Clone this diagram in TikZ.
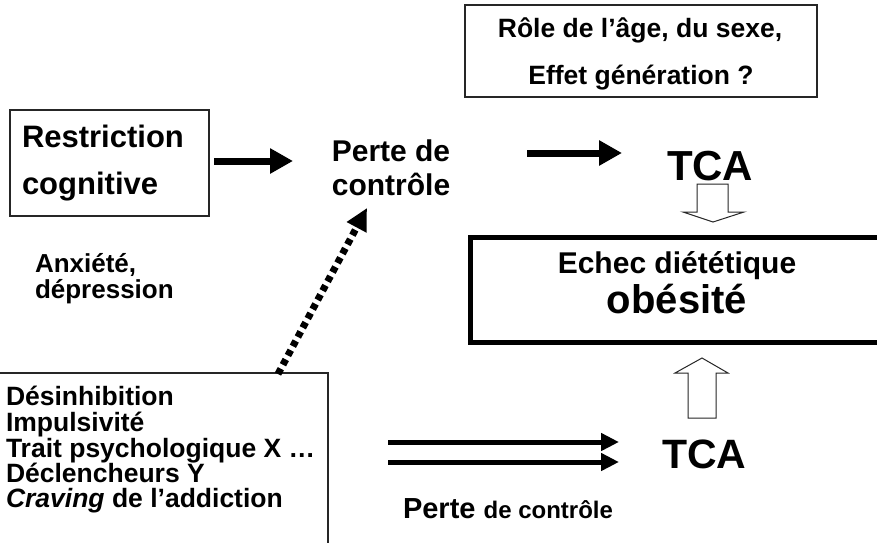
\documentclass[tikz,border=0pt]{standalone}
\usepackage{fontspec}
\setmainfont{Liberation Sans}
\usetikzlibrary{arrows.meta}
\begin{document}
\begin{tikzpicture}[x=1pt,y=-1pt,
  every node/.style={inner sep=0pt, outer sep=0pt},
  thinbox/.style={draw=black!85, line width=1.2pt},
  txt/.style={font=\bfseries\fontsize{#1}{#1}\selectfont},
  bigarrow/.style={line width=7pt, -{Triangle[length=23pt,width=24pt]}},
  dblarrow/.style={line width=5pt, -{Triangle[length=18pt,width=17pt]}},
  dotarrow/.style={line width=7pt, dash pattern=on 6pt off 4.5pt, -{Triangle[length=22pt,width=21pt]}},
  hollow/.style={draw=black!85, line width=1pt, fill=white}]
\useasboundingbox (0,0) rectangle (877,542);
\clip (0,0) rectangle (877,542);

% boxes
\draw[thinbox] (10,110) rectangle (209,216);
\draw[thinbox] (465,5) rectangle (817,97);
\draw[thinbox] (-5,373) rectangle (328,560);
\draw[line width=5pt] (470,237.5) rectangle (890,342.5);

% texts
\node[txt=31, anchor=base west] (restrA) at (22,147) {Restriction};
\node[txt=31, anchor=base west] (restrB) at (22,194) {cognitive};

\node[txt=30, anchor=base] (perteA) at (391,161) {Perte de};
\node[txt=30, anchor=base] (perteB) at (391,195) {contrôle};

\node[txt=42, anchor=base west] (tcaA) at (667,180) {TCA};
\node[txt=41, anchor=base west] (tcaB) at (662,468) {TCA};

\node[txt=26.5, anchor=base] (roleA) at (640,37) {Rôle de l’âge, du sexe,};
\node[txt=26.5, anchor=base] (roleB) at (641,84) {Effet génération ?};

\node[txt=26, anchor=base west] (anxA) at (35,272) {Anxiété,};
\node[txt=26, anchor=base west] (anxB) at (35,298) {dépression};

\node[txt=30, anchor=base] (echecA) at (677,273) {Echec diététique};
\node[txt=40, anchor=base] (obes) at (677,313) {obésité};

\node[txt=26.5, anchor=base west] (l1) at (6,405) {Désinhibition};
\node[txt=26.5, anchor=base west] (l2) at (6,431) {Impulsivité};
\node[txt=26.5, anchor=base west] (l3) at (6,457) {Trait psychologique X …};
\node[txt=26.5, anchor=base west] (l4) at (6,482) {Déclencheurs Y};
\node[txt=26.5, anchor=base west] (l5) at (6,507) {\textit{Craving} de l’addiction};

\node[txt=29, anchor=base west] (pbot) at (403,518) {Perte {\fontsize{24}{24}\selectfont de contrôle}};

% arrow end points
\coordinate (a1s) at (214,161);
\coordinate (a1e) at (293,161);
\coordinate (a2s) at (527,153);
\coordinate (a2e) at (622,153);
\coordinate (dts) at (278,374);
\coordinate (dte) at (367,208);
\coordinate (d1s) at (388,442);
\coordinate (d1e) at (619,442);
\coordinate (d2s) at (388,462);
\coordinate (d2e) at (619,462);

\draw[bigarrow] (a1s) -- (a1e);
\draw[bigarrow] (a2s) -- (a2e);
\draw[dotarrow] (dts) -- (dte);
\draw[dblarrow] (d1s) -- (d1e);
\draw[dblarrow] (d2s) -- (d2e);

% hollow block arrows
\draw[hollow] (697,184) -- (728,184) -- (728,212) -- (744,212) -- (713,222)
  -- (683,212) -- (697,212) -- cycle;
\draw[hollow] (688,418) -- (716,418) -- (716,373) -- (728,373) -- (702,358)
  -- (675,373) -- (688,373) -- cycle;
\end{tikzpicture}
\end{document}
